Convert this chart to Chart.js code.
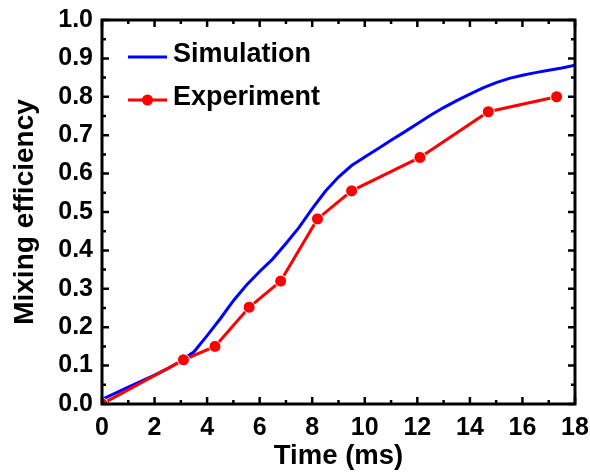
<!DOCTYPE html>
<html>
<head>
<meta charset="utf-8">
<script src="https://cdn.jsdelivr.net/npm/chart.js@4.4.1/dist/chart.umd.min.js"></script>
<style>
  html, body { margin: 0; padding: 0; background: #fff; }
  #wrap { width: 590px; height: 474px; }
</style>
</head>
<body>
<div id="wrap"><canvas id="chart" width="590" height="474"></canvas></div>
<script>
// data
const simTime = [0, 1, 2, 2.5, 3, 3.5, 4, 4.5, 5, 5.5, 6, 6.5, 7, 7.5, 8, 8.5, 9, 9.5, 10, 10.5, 11, 11.5, 12, 12.5, 13, 13.5, 14, 14.5, 15, 15.5, 16, 16.5, 17, 17.5, 18];
const simEfficiency = [0.012, 0.044, 0.075, 0.092, 0.112, 0.136, 0.178, 0.222, 0.269, 0.31, 0.345, 0.378, 0.418, 0.46, 0.509, 0.554, 0.591, 0.621, 0.643, 0.665, 0.687, 0.708, 0.73, 0.752, 0.772, 0.79, 0.807, 0.823, 0.837, 0.848, 0.856, 0.863, 0.869, 0.875, 0.882];
const expTime = [0, 3.1, 4.3, 5.6, 6.8, 8.2, 9.5, 12.1, 14.7, 17.3];
const expEfficiency = [0, 0.115, 0.15, 0.252, 0.32, 0.482, 0.555, 0.642, 0.761, 0.8];
const xTicks = [0, 2, 4, 6, 8, 10, 12, 14, 16, 18];
const yTicks = [0, 0.1, 0.2, 0.3, 0.4, 0.5, 0.6, 0.7, 0.8, 0.9, 1.0];

const toPoints = (xs, ys) => xs.map((v, i) => ({ x: v, y: ys[i] }));

// box round the plot with inward ticks on all four sides
const frameTicks = {
    id: 'frameTicks',
    afterDatasetsDraw(chart) {
        const { ctx, chartArea: a, scales: { x, y } } = chart;
        ctx.save();
        ctx.strokeStyle = '#000';
        ctx.lineWidth = 2.5;
        ctx.beginPath();
        const xs = xTicks;
        for (let i = 0; i < xs.length; i++) {
            const px = x.getPixelForValue(xs[i]);
            ctx.moveTo(px, a.bottom); ctx.lineTo(px, a.bottom - 7);
            ctx.moveTo(px, a.top); ctx.lineTo(px, a.top + 7);
            if (i < xs.length - 1) {
                const mx = x.getPixelForValue((xs[i] + xs[i + 1]) / 2);
                ctx.moveTo(mx, a.bottom); ctx.lineTo(mx, a.bottom - 4);
                ctx.moveTo(mx, a.top); ctx.lineTo(mx, a.top + 4);
            }
        }
        const ys = yTicks;
        for (let i = 0; i < ys.length; i++) {
            const py = y.getPixelForValue(ys[i]);
            ctx.moveTo(a.left, py); ctx.lineTo(a.left + 7, py);
            ctx.moveTo(a.right, py); ctx.lineTo(a.right - 7, py);
            if (i < ys.length - 1) {
                const my = y.getPixelForValue((ys[i] + ys[i + 1]) / 2);
                ctx.moveTo(a.left, my); ctx.lineTo(a.left + 4, my);
                ctx.moveTo(a.right, my); ctx.lineTo(a.right - 4, my);
            }
        }
        ctx.stroke();
        ctx.lineWidth = 3;
        ctx.strokeRect(a.left, a.top, a.right - a.left, a.bottom - a.top);
        ctx.restore();
    }
};

// legend sits inside the plot, top left
const insideLegend = {
    id: 'insideLegend',
    afterDraw(chart) {
        const { ctx, chartArea: a } = chart;
        const rows = [1, 0]; // Simulation first, then Experiment
        ctx.save();
        ctx.font = 'bold 27px "Liberation Sans", Arial, sans-serif';
        ctx.textBaseline = 'alphabetic';
        ctx.fillStyle = '#000';
        rows.forEach((dsIndex, r) => {
            const ds = chart.data.datasets[dsIndex];
            const ly = a.top + 37 + r * 43;
            const x0 = a.left + 26, x1 = a.left + 65;
            ctx.strokeStyle = ds.borderColor;
            ctx.lineWidth = 3;
            ctx.beginPath();
            ctx.moveTo(x0, ly); ctx.lineTo(x1, ly);
            ctx.stroke();
            if (ds.pointRadius > 0) {
                ctx.fillStyle = ds.pointBackgroundColor;
                ctx.beginPath();
                ctx.arc((x0 + x1) / 2, ly, 5.5, 0, Math.PI * 2);
                ctx.fill();
            }
            ctx.fillStyle = '#000';
            ctx.fillText(ds.label, a.left + 71, ly + 5);
        });
        ctx.restore();
    }
};

const tickFont = { family: '"Liberation Sans", Arial, sans-serif', size: 25, weight: 'bold' };

new Chart(document.getElementById('chart'), {
    type: 'line',
    data: {
        datasets: [
            {
                label: 'Experiment',
                data: toPoints(expTime, expEfficiency),
                borderColor: '#ff0000',
                backgroundColor: '#ff0000',
                borderWidth: 3,
                pointRadius: 6,
                pointBackgroundColor: '#ff0000',
                pointBorderColor: '#ffffff',
                pointBorderWidth: 1,
                tension: 0,
                order: 0
            },
            {
                label: 'Simulation',
                data: toPoints(simTime, simEfficiency),
                borderColor: '#0000ff',
                backgroundColor: '#0000ff',
                borderWidth: 3,
                pointRadius: 0,
                tension: 0,
                order: 1
            }
        ]
    },
    options: {
        responsive: false,
        animation: false,
        layout: { padding: { top: 20, right: 15, left: 0, bottom: 0 } },
        plugins: {
            legend: { display: false },
            tooltip: { enabled: false }
        },
        scales: {
            x: {
                type: 'linear',
                min: 0,
                max: 18,
                afterBuildTicks: (s) => { s.ticks = xTicks.map(v => ({ value: v })); },
                afterFit: (s) => { s.height = 70; s.paddingLeft = 0; s.paddingRight = 0; },
                grid: { display: false, drawTicks: false },
                border: { display: false },
                ticks: { color: '#000', font: tickFont, padding: 9, maxRotation: 0 },
                title: {
                    display: true, text: 'Time (ms)', color: '#000',
                    font: { family: '"Liberation Sans", Arial, sans-serif', size: 27.5, weight: 'bold' },
                    padding: { top: 0, bottom: 1.5 }
                }
            },
            y: {
                min: 0,
                max: 1,
                afterBuildTicks: (s) => { s.ticks = yTicks.map(v => ({ value: v })); },
                afterFit: (s) => { s.width = 102; s.paddingTop = 0; s.paddingBottom = 0; },
                grid: { display: false, drawTicks: false },
                border: { display: false },
                ticks: { color: '#000', font: tickFont, padding: 9, callback: (v) => Number(v).toFixed(1) },
                title: {
                    display: true, text: 'Mixing efficiency', color: '#000',
                    font: { family: '"Liberation Sans", Arial, sans-serif', size: 28, weight: 'bold' },
                    padding: { top: 8, bottom: 0 }
                }
            }
        }
    },
    plugins: [frameTicks, insideLegend]
});
</script>
</body>
</html>
